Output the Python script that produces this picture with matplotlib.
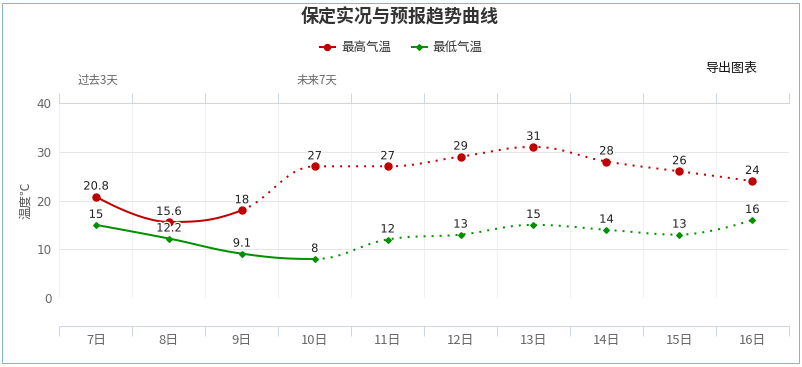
import numpy as np
import matplotlib
matplotlib.use('Agg')
import matplotlib.pyplot as plt
from matplotlib.lines import Line2D
from matplotlib.patches import Rectangle
import matplotlib.patheffects as pe

plt.rcParams['font.family'] = ['Noto Sans CJK SC', 'DejaVu Sans']

# 数据
days = ['7日', '8日', '9日', '10日', '11日', '12日', '13日', '14日', '15日', '16日']
t_max = [20.8, 15.6, 18, 27, 27, 29, 31, 28, 26, 24]
t_min = [15, 12.2, 9.1, 8, 12, 13, 15, 14, 13, 16]
max_solid_end = 2   # 实况到 9日
min_solid_end = 3   # 实况到 10日
labels_top = ['过去3天', '未来7天']
labels_top_x = [0, 3]

RED = '#c00000'
GREEN = '#009000'
GRID = '#e6e6e6'
AXIS = '#ccd6eb'

W, H = 803, 367


def spline(xs, ys, n=40):
    # Highcharts 风格的样条曲线 (smoothing = 1.5)
    xs = np.asarray(xs, float)
    ys = np.asarray(ys, float)
    m = len(xs)
    lc = [(xs[i], ys[i]) for i in range(m)]
    rc = [(xs[i], ys[i]) for i in range(m)]
    s, d = 1.5, 2.5
    for i in range(1, m - 1):
        px_, py = xs[i], ys[i]
        lx, ly, nx, ny = xs[i - 1], ys[i - 1], xs[i + 1], ys[i + 1]
        lcx = (s * px_ + lx) / d
        lcy = (s * py + ly) / d
        rcx = (s * px_ + nx) / d
        rcy = (s * py + ny) / d
        corr = (rcy - lcy) * (rcx - px_) / (rcx - lcx) + py - rcy
        lcy += corr
        rcy += corr
        if lcy > ly and lcy > py:
            lcy = max(ly, py)
            rcy = 2 * py - lcy
        elif lcy < ly and lcy < py:
            lcy = min(ly, py)
            rcy = 2 * py - lcy
        if rcy > ny and rcy > py:
            rcy = max(ny, py)
            lcy = 2 * py - rcy
        elif rcy < ny and rcy < py:
            rcy = min(ny, py)
            lcy = 2 * py - rcy
        lc[i] = (lcx, lcy)
        rc[i] = (rcx, rcy)
    segs = []
    t = np.linspace(0, 1, n)[:, None]
    for i in range(1, m):
        p0 = np.array([xs[i - 1], ys[i - 1]])
        p1 = np.array(rc[i - 1])
        p2 = np.array(lc[i])
        p3 = np.array([xs[i], ys[i]])
        b = ((1 - t) ** 3) * p0 + 3 * ((1 - t) ** 2) * t * p1 + 3 * (1 - t) * t ** 2 * p2 + t ** 3 * p3
        segs.append(b)
    return segs


fig = plt.figure(figsize=(W / 100, H / 100), dpi=100)
px = lambda v: v * 0.72  # 像素 -> 磅

left, right, top, bottom = 59.5, 788.7, 103, 298
ax = fig.add_axes([left / W, 1 - bottom / H, (right - left) / W, (bottom - top) / H])

x = np.arange(len(days))
ax.set_xlim(-0.5, len(days) - 0.5)
ax.set_ylim(0, 40)

for vals, color, marker, ms, cut in [(t_max, RED, 'o', px(7), max_solid_end),
                                     (t_min, GREEN, 'D', px(4), min_solid_end)]:
    segs = spline(x, vals)
    solid = np.vstack(segs[:cut])
    dotted = np.vstack(segs[cut:])
    ax.plot(solid[:, 0], solid[:, 1], color=color, lw=px(2), solid_capstyle='round', zorder=3, clip_on=False)
    ax.plot(dotted[:, 0], dotted[:, 1], color=color, lw=px(2), linestyle=(0, (1, 3)), zorder=3, clip_on=False)
    ax.plot(x, vals, linestyle='none', marker=marker, ms=ms, color=color, zorder=4, clip_on=False)
    for xi, v in zip(x, vals):
        ax.annotate(f'{v:g}', (xi, v), xytext=(0, px(5)), textcoords='offset points',
                    ha='center', va='bottom', fontsize=px(11.5), color='#222222',
                    family='DejaVu Sans', zorder=5,
                    path_effects=[pe.withStroke(linewidth=2, foreground='white')])

# 坐标轴
ax.set_yticks([0, 10, 20, 30, 40])
ax.set_yticklabels(['0', '10', '20', '30', '40'], family='DejaVu Sans')
ax.tick_params(axis='y', length=0, pad=px(8), labelsize=px(12), labelcolor='#666666')
ax.grid(axis='y', color=GRID, lw=px(1))

ax.set_xticks(np.arange(-0.5, len(days), 1.0))
ax.set_xticklabels([])
ax.set_xticks(x, minor=True)
ax.set_xticklabels(days, minor=True)
ax.tick_params(axis='x', which='major', direction='out', length=px(10), width=px(1),
               color=AXIS, top=True, bottom=True)
ax.tick_params(axis='x', which='minor', length=0, pad=px(8), labelsize=px(13), labelcolor='#666666')
ax.grid(axis='x', which='major', color='#f0f0f0', lw=px(1))
ax.set_axisbelow(True)

for side in ['left', 'right']:
    ax.spines[side].set_visible(False)
ax.spines['top'].set_color(AXIS)
ax.spines['top'].set_linewidth(px(1))
ax.spines['bottom'].set_color(AXIS)
ax.spines['bottom'].set_linewidth(px(1))
ax.spines['bottom'].set_position(('outward', px(28)))

ax.set_ylabel('温度℃', fontsize=px(12.5), color='#555555', labelpad=px(4))

# 顶部分组标签
for lab, xi in zip(labels_top, labels_top_x):
    ax.text(xi + 0.03, 40 + 23 / 4.875, lab, ha='center', va='center', fontsize=px(11.5),
            color='#666666', clip_on=False)

# 标题
fig.text(400 / W, 1 - 17 / H, '保定实况与预报趋势曲线', ha='center', va='center',
         fontsize=px(18), fontweight='bold', color='#333333')

# 图例
for (x0, x1, tx), color, marker, ms, lab in [((320, 335, 341), RED, 'o', px(6), '最高气温'),
                                            ((412, 427, 432), GREEN, 'D', px(4), '最低气温')]:
    yy = 1 - 47 / H
    fig.add_artist(Line2D([x0 / W, x1 / W], [yy, yy], color=color, lw=px(2)))
    fig.add_artist(Line2D([(x0 + x1) / 2 / W], [yy], marker=marker, ms=ms, color=color, linestyle='none'))
    fig.text(tx / W, yy, lab, ha='left', va='center', fontsize=px(12.5), color='#333333')

fig.text(731 / W, 1 - 68 / H, '导出图表', ha='center', va='center', fontsize=px(13), color='#111111')

# 外框
fig.add_artist(Rectangle((2.5 / W, 1 - 362.5 / H), 797 / W, 360 / H, transform=fig.transFigure,
                         fill=False, edgecolor='#7fb2e5', lw=px(1)))

fig.savefig('out.png', dpi=100)
